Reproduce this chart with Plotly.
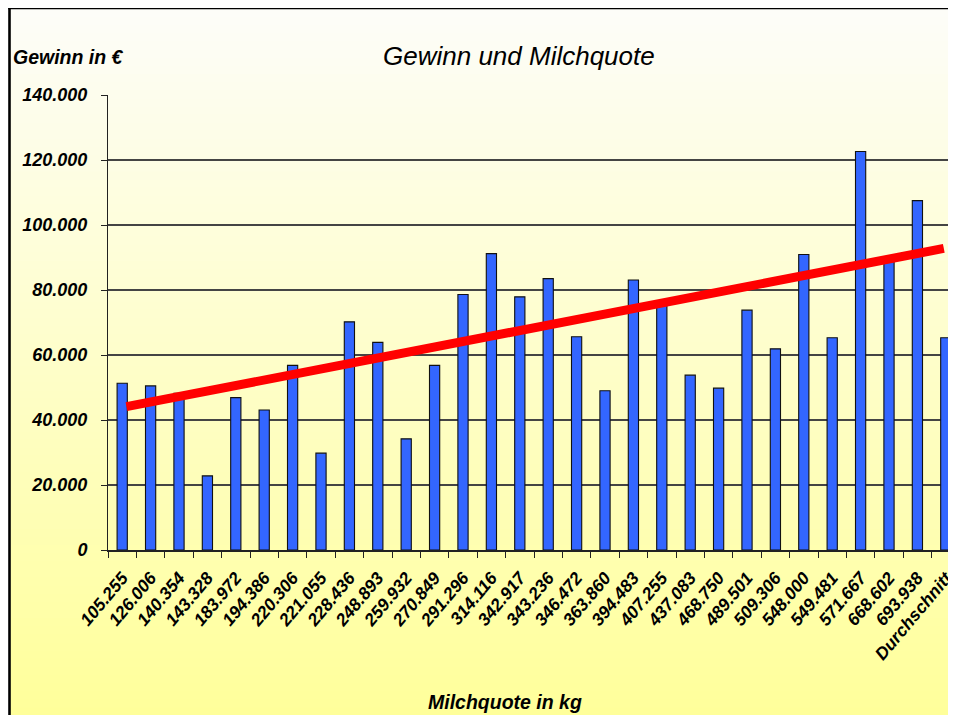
import plotly.graph_objects as go

# ---------------- data ----------------
categories = ["105.255", "126.006", "140.354", "143.328", "183.972", "194.386",
              "220.306", "221.055", "228.436", "248.893", "259.932", "270.849",
              "291.296", "314.116", "342.917", "343.236", "346.472", "363.860",
              "394.483", "407.255", "437.083", "468.750", "489.501", "509.306",
              "548.000", "549.481", "571.667", "668.602", "693.938", "Durchschnitt"]
gewinn = [51300, 50500, 48200, 22800, 46900, 43100, 56800, 29800, 70200, 63900,
          34200, 56800, 78600, 91200, 77900, 83500, 65600, 49000, 83100, 76300,
          53800, 49800, 73800, 61900, 90900, 65300, 122600, 89500, 107500, 65300]
trend_x = [0.15, 28.93]
trend_y = [44100, 92800]
y_ticks = [0, 20000, 40000, 60000, 80000, 100000, 120000, 140000]

# ---------------- layout geometry ----------------
OFF = 8                      # page body margin
W, H = 956 - OFF, 723 - 2 * OFF
L, R, T, B = 108 - OFF, 956 - OFF, 95 - OFF, 550 - OFF
X_END = -0.5 + (R - L) / ((960 - 108) / 30.0)


def px(x):
    return (x - OFF - L) / (R - L)


def py(y):
    return (B - (y - OFF)) / (B - T)


bold_it = dict(family="Liberation Sans, Arial, sans-serif", color="black",
               weight="bold", style="italic")

fig = go.Figure()
fig.add_trace(go.Bar(
    x=categories, y=gewinn, width=0.36,
    marker=dict(color="#3366FF", line=dict(color="#111111", width=1.1)),
    hoverinfo="x+y", showlegend=False,
))
fig.add_trace(go.Scatter(
    x=trend_x, y=trend_y, xaxis="x2", mode="lines",
    line=dict(color="#FF0000", width=9), showlegend=False, hoverinfo="skip",
))

# background gradient bands
shapes = []
N = 90
top_px = 9
for i in range(N):
    y0 = top_px + (740 - top_px) * i / N
    y1 = top_px + (740 - top_px) * (i + 1) / N + 0.6
    t = min(((y0 + y1) / 2) / 723, 1.0)
    r = int(round(253 + 2 * t))
    b = int(round(250 - 97 * t))
    shapes.append(dict(type="rect", xref="paper", yref="paper",
                       x0=px(9), x1=px(980), y0=py(y1 + 2), y1=py(y0),
                       fillcolor=f"rgb({r},{r},{b})", line=dict(width=0),
                       layer="below"))
# frame lines (left and top)
shapes.append(dict(type="line", xref="paper", yref="paper",
                   x0=px(9.5), x1=px(9.5), y0=py(745), y1=py(6.7),
                   line=dict(color="black", width=2.6), layer="above"))
shapes.append(dict(type="line", xref="paper", yref="paper",
                   x0=px(8.2), x1=px(980), y0=py(8), y1=py(8),
                   line=dict(color="black", width=2.6), layer="above"))

annotations = [
    dict(text="Gewinn und Milchquote", xref="paper", yref="paper",
         x=px(519), y=py(56), xanchor="center", yanchor="middle", showarrow=False,
         font=dict(family="Liberation Sans, Arial, sans-serif", size=26,
                   color="black", style="italic")),
    dict(text="Gewinn in €", xref="paper", yref="paper",
         x=px(11), y=py(57), xanchor="left", yanchor="middle", showarrow=False,
         font=dict(size=19.5, **bold_it)),
    dict(text="Milchquote in kg", xref="paper", yref="paper",
         x=px(505), y=py(702), xanchor="center", yanchor="middle", showarrow=False,
         font=dict(size=19.5, **bold_it)),
]

fig.update_layout(
    width=W, height=H,
    margin=dict(l=L, r=W - R, t=T, b=H - B, pad=0),
    paper_bgcolor="white", plot_bgcolor="rgba(0,0,0,0)",
    separators=",.",
    shapes=shapes, annotations=annotations,
    xaxis=dict(type="category", range=[-0.5, X_END], showgrid=False,
               showline=True, linecolor="#222", linewidth=1.5,
               ticks="outside", tickson="boundaries", ticklen=6,
               tickcolor="#222", tickwidth=1, tickangle=-50,
               ticklabelstandoff=9,
               tickfont=dict(size=17.5, **bold_it), zeroline=False),
    xaxis2=dict(range=[-0.5, X_END], overlaying="x", visible=False),
    yaxis=dict(range=[0, 140000], tickvals=y_ticks, tickformat=",.0f",
               showgrid=True, gridcolor="#444444", gridwidth=1.5,
               showline=True, linecolor="#222", linewidth=1,
               ticks="outside", ticklen=6, tickcolor="#222",
               ticklabelstandoff=10,
               tickfont=dict(size=18, **bold_it), zeroline=False),
    bargap=0.64,
)

fig.write_html("out.html")
